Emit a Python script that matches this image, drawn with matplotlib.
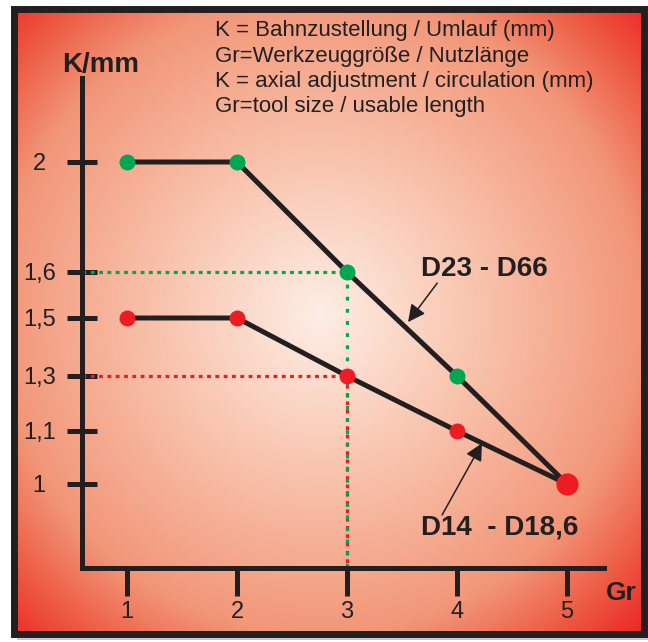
"""K/mm vs Gr chart (Bahnzustellung / Werkzeuggroesse) on a red radial backdrop."""

import matplotlib

matplotlib.use("Agg")
import matplotlib.pyplot as plt
import numpy as np
from matplotlib.patches import Rectangle
from matplotlib.scale import FuncScale

# data
gr = [1, 2, 3, 4, 5]
k_d23_d66 = [2.0, 2.0, 1.6, 1.3, 1.0]
k_d14_d186 = [1.5, 1.5, 1.3, 1.1, 1.0]
x_ticks = [1, 2, 3, 4, 5]
y_ticks = [1.0, 1.1, 1.3, 1.5, 1.6, 2.0]
y_tick_labels = ["1", "1,1", "1,3", "1,5", "1,6", "2"]
header_lines = [
    "K = Bahnzustellung / Umlauf (mm)",
    "Gr=Werkzeuggröße / Nutzlänge",
    "K = axial adjustment / circulation (mm)",
    "Gr=tool size / usable length",
]

BLACK = "#231f20"
GREEN = "#00a651"
RED = "#ed1c24"
W, H = 648, 642

plt.rcParams["font.family"] = ["Liberation Sans", "DejaVu Sans"]

# the printed y axis is not evenly spaced: tick spacing as drawn
y_steps = [0, 53, 108, 166, 212, 322]
slope_lo = (y_steps[1] - y_steps[0]) / (y_ticks[1] - y_ticks[0])
slope_hi = (y_steps[-1] - y_steps[-2]) / (y_ticks[-1] - y_ticks[-2])


def fwd(v):
    v = np.asarray(v, dtype=float)
    out = np.interp(v, y_ticks, y_steps)
    out = np.where(v < y_ticks[0], y_steps[0] + (v - y_ticks[0]) * slope_lo, out)
    out = np.where(v > y_ticks[-1], y_steps[-1] + (v - y_ticks[-1]) * slope_hi, out)
    return out


def inv(p):
    p = np.asarray(p, dtype=float)
    out = np.interp(p, y_steps, y_ticks)
    out = np.where(p < y_steps[0], y_ticks[0] + (p - y_steps[0]) / slope_lo, out)
    out = np.where(p > y_steps[-1], y_ticks[-1] + (p - y_steps[-1]) / slope_hi, out)
    return out


fig = plt.figure(figsize=(W / 100, H / 100), dpi=100)

# backdrop: radial gradient inside a heavy black frame
bg = fig.add_axes([0, 0, 1, 1])
bg.set_xlim(0, W)
bg.set_ylim(H, 0)
bg.axis("off")
yy, xx = np.mgrid[0:H, 0:W] + 0.5
dist = np.hypot(xx - 320, yy - 315)
stops = [0, 120, 250, 320, 390, 455]
cols = np.array([
    [253, 238, 230],
    [250, 206, 186],
    [245, 170, 143],
    [242, 150, 120],
    [238, 92, 68],
    [236, 35, 36],
]) / 255
img = np.dstack([np.interp(dist, stops, cols[:, i]) for i in range(3)])
bg.add_patch(Rectangle((17, 13), 631, 627, fc="#c9c9c9", ec="none", zorder=0))
im = bg.imshow(img, extent=(0, W, H, 0), interpolation="bilinear", zorder=1)
im.set_clip_path(Rectangle((13.5, 9), 630, 625, transform=bg.transData))
bg.add_patch(Rectangle((13.5, 9), 630, 625, fill=False, lw=5, ec=BLACK, zorder=2))

ax = fig.add_axes([82 / W, 1 - 568 / H, (604 - 82) / W, (568 - 78) / H])
ax.patch.set_alpha(0)
ax.set_yscale(FuncScale(ax.yaxis, (fwd, inv)))
ax.set_xlim(0.591, 5.336)
ax.set_ylim(float(inv(-84)), float(inv(406)))

for side in ["top", "right"]:
    ax.spines[side].set_visible(False)
for side in ["left", "bottom"]:
    ax.spines[side].set_linewidth(3.6)
    ax.spines[side].set_color(BLACK)
    ax.spines[side].set_capstyle("projecting")

ax.set_xticks(x_ticks)
ax.set_xticklabels([str(v) for v in x_ticks])
ax.set_yticks(y_ticks)
ax.set_yticklabels(y_tick_labels)
ax.tick_params(axis="x", direction="out", length=20, width=3.6, color=BLACK, pad=4,
               labelsize=17, labelcolor=BLACK)
ax.tick_params(axis="y", direction="inout", length=21.6, width=3.6, color=BLACK, pad=20,
               labelsize=17, labelcolor=BLACK)
for lab in ax.get_yticklabels():
    lab.set_horizontalalignment("center")
ax.minorticks_off()

# dotted guides to Gr = 3
x0 = ax.get_xlim()[0]
y0 = ax.get_ylim()[0]
dots = dict(lw=2.3, linestyle=(0, (1.2, 1.4)), zorder=2, solid_capstyle="butt")
ax.plot([x0, gr[2]], [k_d14_d186[2], k_d14_d186[2]], color=RED, **dots)
ax.plot([gr[2], gr[2]], [k_d14_d186[2], y0], color=RED, **dots)
ax.plot([x0, gr[2]], [k_d23_d66[2], k_d23_d66[2]], color=GREEN, **dots)
ax.plot([gr[2], gr[2]], [k_d23_d66[2], y0], color=GREEN, dashes=(1.2, 2.6), lw=2.3, zorder=2)

ax.plot(gr, k_d23_d66, color=BLACK, lw=3.6, zorder=3, solid_capstyle="butt")
ax.plot(gr, k_d14_d186, color=BLACK, lw=3.6, zorder=3, solid_capstyle="butt")
ax.plot(gr, k_d23_d66, "o", color=GREEN, ms=11.5, mec="none", zorder=4)
ax.plot(gr[:-1], k_d14_d186[:-1], "o", color=RED, ms=11.5, mec="none", zorder=4)
ax.plot(gr[-1:], k_d14_d186[-1:], "o", color=RED, ms=16, mec="none", zorder=5)

arrow = dict(arrowstyle="-|>", color=BLACK, lw=1.1, mutation_scale=26, shrinkA=0, shrinkB=0)
ax.annotate("", xy=(3.555, 1.486), xytext=(3.82, 1.576), arrowprops=arrow, zorder=6)
ax.annotate("", xy=(4.227, 1.077), xytext=(3.864, 0.9415), arrowprops=arrow, zorder=6)
ax.text(4.245, 1.611, "D23 - D66", fontsize=20, fontweight="bold", color=BLACK,
        ha="center", va="center", zorder=6)
ax.text(4.39, 0.917, "D14  - D18,6", fontsize=20, fontweight="bold", color=BLACK,
        ha="center", va="center", zorder=6)

fig.text(101 / W, 1 - 72 / H, "K/mm", fontsize=20, fontweight="bold", color=BLACK,
         ha="center", va="baseline")
fig.text(621 / W, 1 - 600 / H, "Gr", fontsize=19, fontweight="bold", color=BLACK,
         ha="center", va="baseline")
for line, base in zip(header_lines, [36, 62, 87, 112]):
    fig.text(215 / W, 1 - base / H, line, fontsize=16, color=BLACK, ha="left", va="baseline")

fig.savefig("out.png", dpi=100)
